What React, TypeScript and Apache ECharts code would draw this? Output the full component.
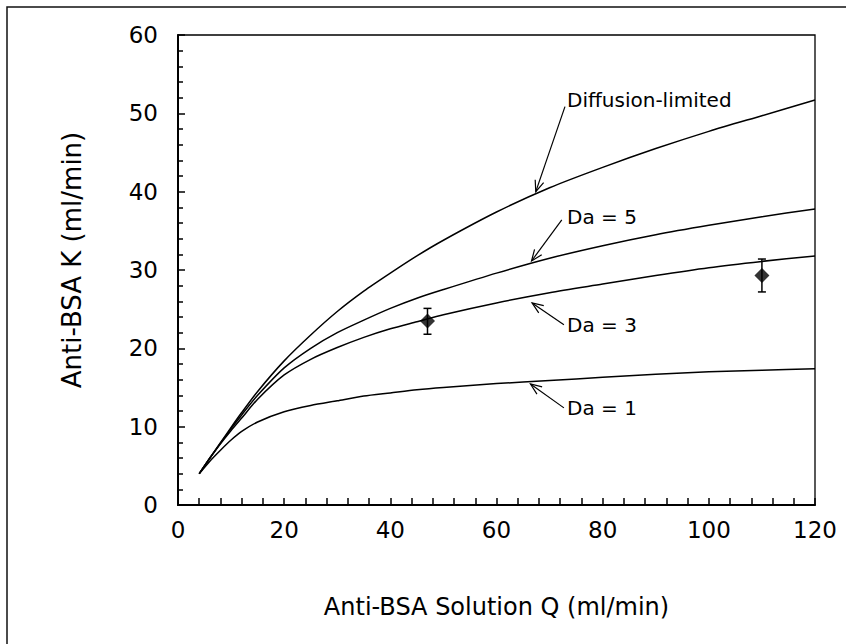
import React, { useEffect, useRef } from 'react';
import * as echarts from 'echarts';

// Flow rate Q (ml/min) at which the model curves were read
const qValues = [4, 6, 8, 10, 12, 15, 20, 25, 30, 35, 40, 45, 50, 60, 70, 80, 90, 100, 110, 120];
// Clearance K (ml/min) for each model curve
const diffusionLimited = [4, 6, 7.95, 9.9, 11.8, 14.5, 18.4, 21.7, 24.7, 27.3, 29.6, 31.8, 33.8, 37.4, 40.5, 43.1, 45.5, 47.7, 49.7, 51.7];
const da5 = [4, 6, 7.9, 9.75, 11.5, 14.0, 17.5, 20.0, 22.0, 23.6, 25.1, 26.4, 27.5, 29.6, 31.5, 33.1, 34.5, 35.7, 36.8, 37.8];
const da3 = [4, 5.95, 7.8, 9.5, 11.1, 13.5, 16.6, 18.6, 20.1, 21.4, 22.5, 23.4, 24.3, 25.8, 27.1, 28.2, 29.3, 30.3, 31.1, 31.8];
const da1 = [4, 5.6, 7.0, 8.3, 9.4, 10.6, 11.9, 12.7, 13.3, 13.9, 14.3, 14.7, 15.0, 15.5, 15.9, 16.3, 16.7, 17.0, 17.2, 17.4];

// Measured points with error bars
const measuredQ = [47, 110];
const measuredK = [23.5, 29.3];
const errLow = [21.8, 27.2];
const errHigh = [25.1, 31.4];

// Annotations (data coordinates)
const labelTexts = ['Diffusion-limited', 'Da = 5', 'Da = 3', 'Da = 1'];
const labelAnchor = [[73.3, 51.7], [73.3, 36.8], [73.3, 23.0], [73.3, 12.4]];
const arrowFrom = [[72.9, 50.85], [72.3, 36.4], [72.7, 23.0], [72.7, 12.4]];
const arrowTo = [[67.4, 40.0], [66.6, 31.15], [66.7, 25.8], [66.4, 15.45]];

const FONT = 'DejaVu Sans';

export default function App() {
  const ref = useRef<HTMLDivElement>(null);

  useEffect(() => {
    if (!ref.current) return;
    const chart = echarts.init(ref.current, null, { renderer: 'svg' });

    const curve = (name: string, ys: number[]) => ({
      name,
      type: 'line',
      data: qValues.map((q, i) => [q, ys[i]]),
      showSymbol: false,
      symbol: 'none',
      smooth: 0.25,
      lineStyle: { color: '#000', width: 1.5, join: 'round' },
      z: 3,
    });

    const annotationData = labelTexts.map((_, i) => [
      arrowFrom[i][0], arrowFrom[i][1], arrowTo[i][0], arrowTo[i][1], labelAnchor[i][0], labelAnchor[i][1],
    ]);

    const option: any = {
      animation: false,
      textStyle: { fontFamily: FONT, color: '#000' },
      grid: {
        left: 178, top: 35, right: 31, bottom: 139,
        show: true, borderColor: '#000', borderWidth: 1.3, backgroundColor: 'transparent',
      },
      graphic: [
        {
          type: 'rect',
          silent: true,
          z: -10,
          shape: { x: 7, y: 7, width: 1200, height: 1200 },
          style: { fill: 'none', stroke: '#111', lineWidth: 1.5 },
        },
      ],
      xAxis: {
        type: 'value',
        min: 0, max: 120, interval: 20,
        name: 'Anti-BSA Solution Q (ml/min)',
        nameLocation: 'middle',
        nameGap: 90,
        nameTextStyle: { fontSize: 24, color: '#000', fontFamily: FONT },
        axisLine: { onZero: false, lineStyle: { color: '#000', width: 2 } },
        axisTick: { inside: true, length: 7, lineStyle: { color: '#000', width: 1.5 } },
        minorTick: { show: true, splitNumber: 5, length: 7, lineStyle: { color: '#000', width: 1.5 } },
        axisLabel: { color: '#000', fontSize: 23, fontFamily: FONT, margin: 13 },
        splitLine: { show: false },
      },
      yAxis: {
        type: 'value',
        min: 0, max: 60, interval: 10,
        name: 'Anti-BSA K (ml/min)',
        nameLocation: 'middle',
        nameGap: 93,
        nameRotate: 90,
        nameTextStyle: { fontSize: 26, color: '#000', fontFamily: FONT, padding: [0, 0, 0, 20] },
        axisLine: { onZero: false, lineStyle: { color: '#000', width: 2 } },
        axisTick: { inside: true, length: 7, lineStyle: { color: '#000', width: 1.5 } },
        minorTick: { show: true, splitNumber: 5, length: 5, lineStyle: { color: '#000', width: 1.5 } },
        axisLabel: { color: '#000', fontSize: 23, fontFamily: FONT, margin: 20 },
        splitLine: { show: false },
      },
      series: [
        curve('Diffusion-limited', diffusionLimited),
        curve('Da = 5', da5),
        curve('Da = 3', da3),
        curve('Da = 1', da1),
        {
          name: 'error',
          type: 'custom',
          data: measuredQ.map((q, i) => [q, errLow[i], errHigh[i]]),
          renderItem: (params: any, api: any) => {
            const lo = api.coord([api.value(0), api.value(1)]);
            const hi = api.coord([api.value(0), api.value(2)]);
            const cap = 4;
            const st = { stroke: '#000', lineWidth: 1.5 };
            return {
              type: 'group',
              children: [
                { type: 'line', shape: { x1: lo[0], y1: lo[1], x2: hi[0], y2: hi[1] }, style: st },
                { type: 'line', shape: { x1: lo[0] - cap, y1: lo[1], x2: lo[0] + cap, y2: lo[1] }, style: st },
                { type: 'line', shape: { x1: hi[0] - cap, y1: hi[1], x2: hi[0] + cap, y2: hi[1] }, style: st },
              ],
            };
          },
          z: 4,
        },
        {
          name: 'Measured',
          type: 'scatter',
          data: measuredQ.map((q, i) => [q, measuredK[i]]),
          symbol: 'diamond',
          symbolSize: [15, 15],
          itemStyle: { color: '#000' },
          z: 5,
        },
        {
          name: 'annotations',
          type: 'custom',
          data: annotationData,
          clip: false,
          renderItem: (params: any, api: any) => {
            const s = api.coord([api.value(0), api.value(1)]);
            const t = api.coord([api.value(2), api.value(3)]);
            const lp = api.coord([api.value(4), api.value(5)]);
            const dx = t[0] - s[0];
            const dy = t[1] - s[1];
            const len = Math.hypot(dx, dy) || 1;
            const ux = dx / len;
            const uy = dy / len;
            const L = 12;
            const a = 0.38;
            const ca = Math.cos(a);
            const sa = Math.sin(a);
            const w1 = [t[0] - L * (ux * ca - uy * sa), t[1] - L * (uy * ca + ux * sa)];
            const w2 = [t[0] - L * (ux * ca + uy * sa), t[1] - L * (uy * ca - ux * sa)];
            const st = { stroke: '#000', lineWidth: 1.2, fill: 'none' };
            return {
              type: 'group',
              children: [
                { type: 'line', shape: { x1: s[0], y1: s[1], x2: t[0], y2: t[1] }, style: st },
                { type: 'polyline', shape: { points: [w1, t, w2] }, style: st },
                {
                  type: 'text',
                  x: lp[0],
                  y: lp[1],
                  style: {
                    text: labelTexts[params.dataIndex],
                    fill: '#000',
                    fontSize: 20,
                    fontFamily: FONT,
                    align: 'left',
                    verticalAlign: 'middle',
                  },
                },
              ],
            };
          },
          z: 6,
        },
      ],
    };

    chart.setOption(option);
    return () => {
      chart.dispose();
    };
  }, []);

  return (
    <div
      ref={ref}
      style={{ position: 'absolute', left: 0, top: 0, width: 846, height: 644, background: '#fff' }}
    />
  );
}
